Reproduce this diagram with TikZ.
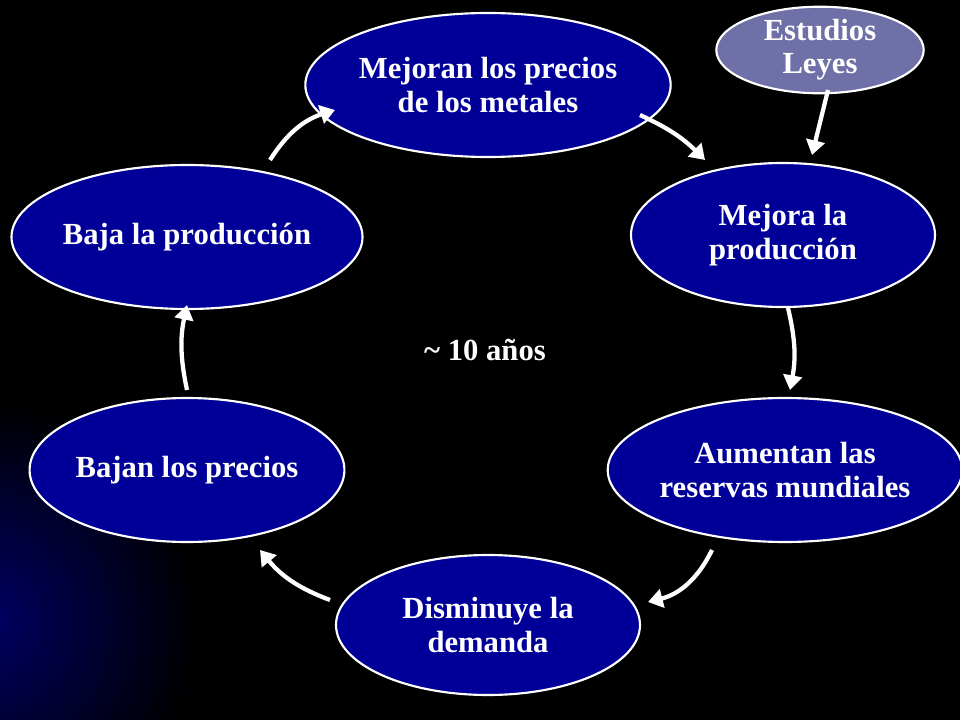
\documentclass[tikz,border=0pt]{standalone}
\usepackage{fontspec}
\setmainfont{Liberation Serif}
\usetikzlibrary{shapes.geometric,arrows.meta}
\definecolor{elblue}{HTML}{000099}
\definecolor{slate}{HTML}{7070A8}
\tikzset{
 cyc/.style={ellipse,draw=white,line width=1.6pt,fill=elblue,text=white,font=\bfseries\fontsize{23}{25}\selectfont,align=center,inner sep=0pt},
 arr/.style={draw=white,line width=3.2pt,-{Triangle[length=11pt,width=14pt]}}
}
\begin{document}
\begin{tikzpicture}[x=0.75pt,y=-0.75pt]
\useasboundingbox (0,0) rectangle (960,720);
\fill[black] (0,0) rectangle (960,720);
\begin{scope}
\clip (0,0) rectangle (960,720);
\shade[inner color=blue!40!black,outer color=black] (-20,620) circle (220);
\end{scope}
\node[cyc,minimum width=304pt*0.75,minimum height=144pt*0.75] (a) at (488,85) {Mejoran los precios\\de los metales};
\node[cyc,minimum width=304pt*0.75,minimum height=144pt*0.75] (b) at (783,235) {Mejora la\\producción};
\node[cyc,minimum width=300pt*0.75,minimum height=144pt*0.75] (c) at (785,470) {Aumentan las\\reservas mundiales};
\node[cyc,minimum width=304pt*0.75,minimum height=140pt*0.75] (d) at (488,625) {Disminuye la\\demanda};
\node[cyc,minimum width=294pt*0.75,minimum height=144pt*0.75] (e) at (187,470) {Bajan los precios};
\node[cyc,minimum width=294pt*0.75,minimum height=144pt*0.75] (f) at (187,237) {Baja la producción};
\node[cyc,fill=slate,minimum width=170pt*0.75,minimum height=76pt*0.75,text width=110pt] (g) at (820,50) {Estudios\\Leyes};
\node[text=white,font=\bfseries\fontsize{23}{25}\selectfont] (t) at (485,350) {\textasciitilde{} 10 años};
\coordinate (p1) at (270,160); \coordinate (q1) at (335,110);
\coordinate (p2) at (640,115); \coordinate (q2) at (705,160);
\coordinate (p3) at (828,90); \coordinate (q3) at (812,155);
\coordinate (p4) at (788,308); \coordinate (q4) at (790,390);
\coordinate (p5) at (712,550); \coordinate (q5) at (648,602);
\coordinate (p6) at (330,600); \coordinate (q6) at (260,550);
\coordinate (p7) at (187,390); \coordinate (q7) at (187,305);
\draw[arr] (p1) to[bend left=20] (q1);
\draw[arr] (p2) to[bend left=10] (q2);
\draw[arr] (p3) -- (q3);
\draw[arr] (p4) to[bend left=12] (q4);
\draw[arr] (p5) to[bend left=25] (q5);
\draw[arr] (p6) to[bend left=15] (q6);
\draw[arr] (p7) to[bend left=12] (q7);
\end{tikzpicture}
\end{document}
